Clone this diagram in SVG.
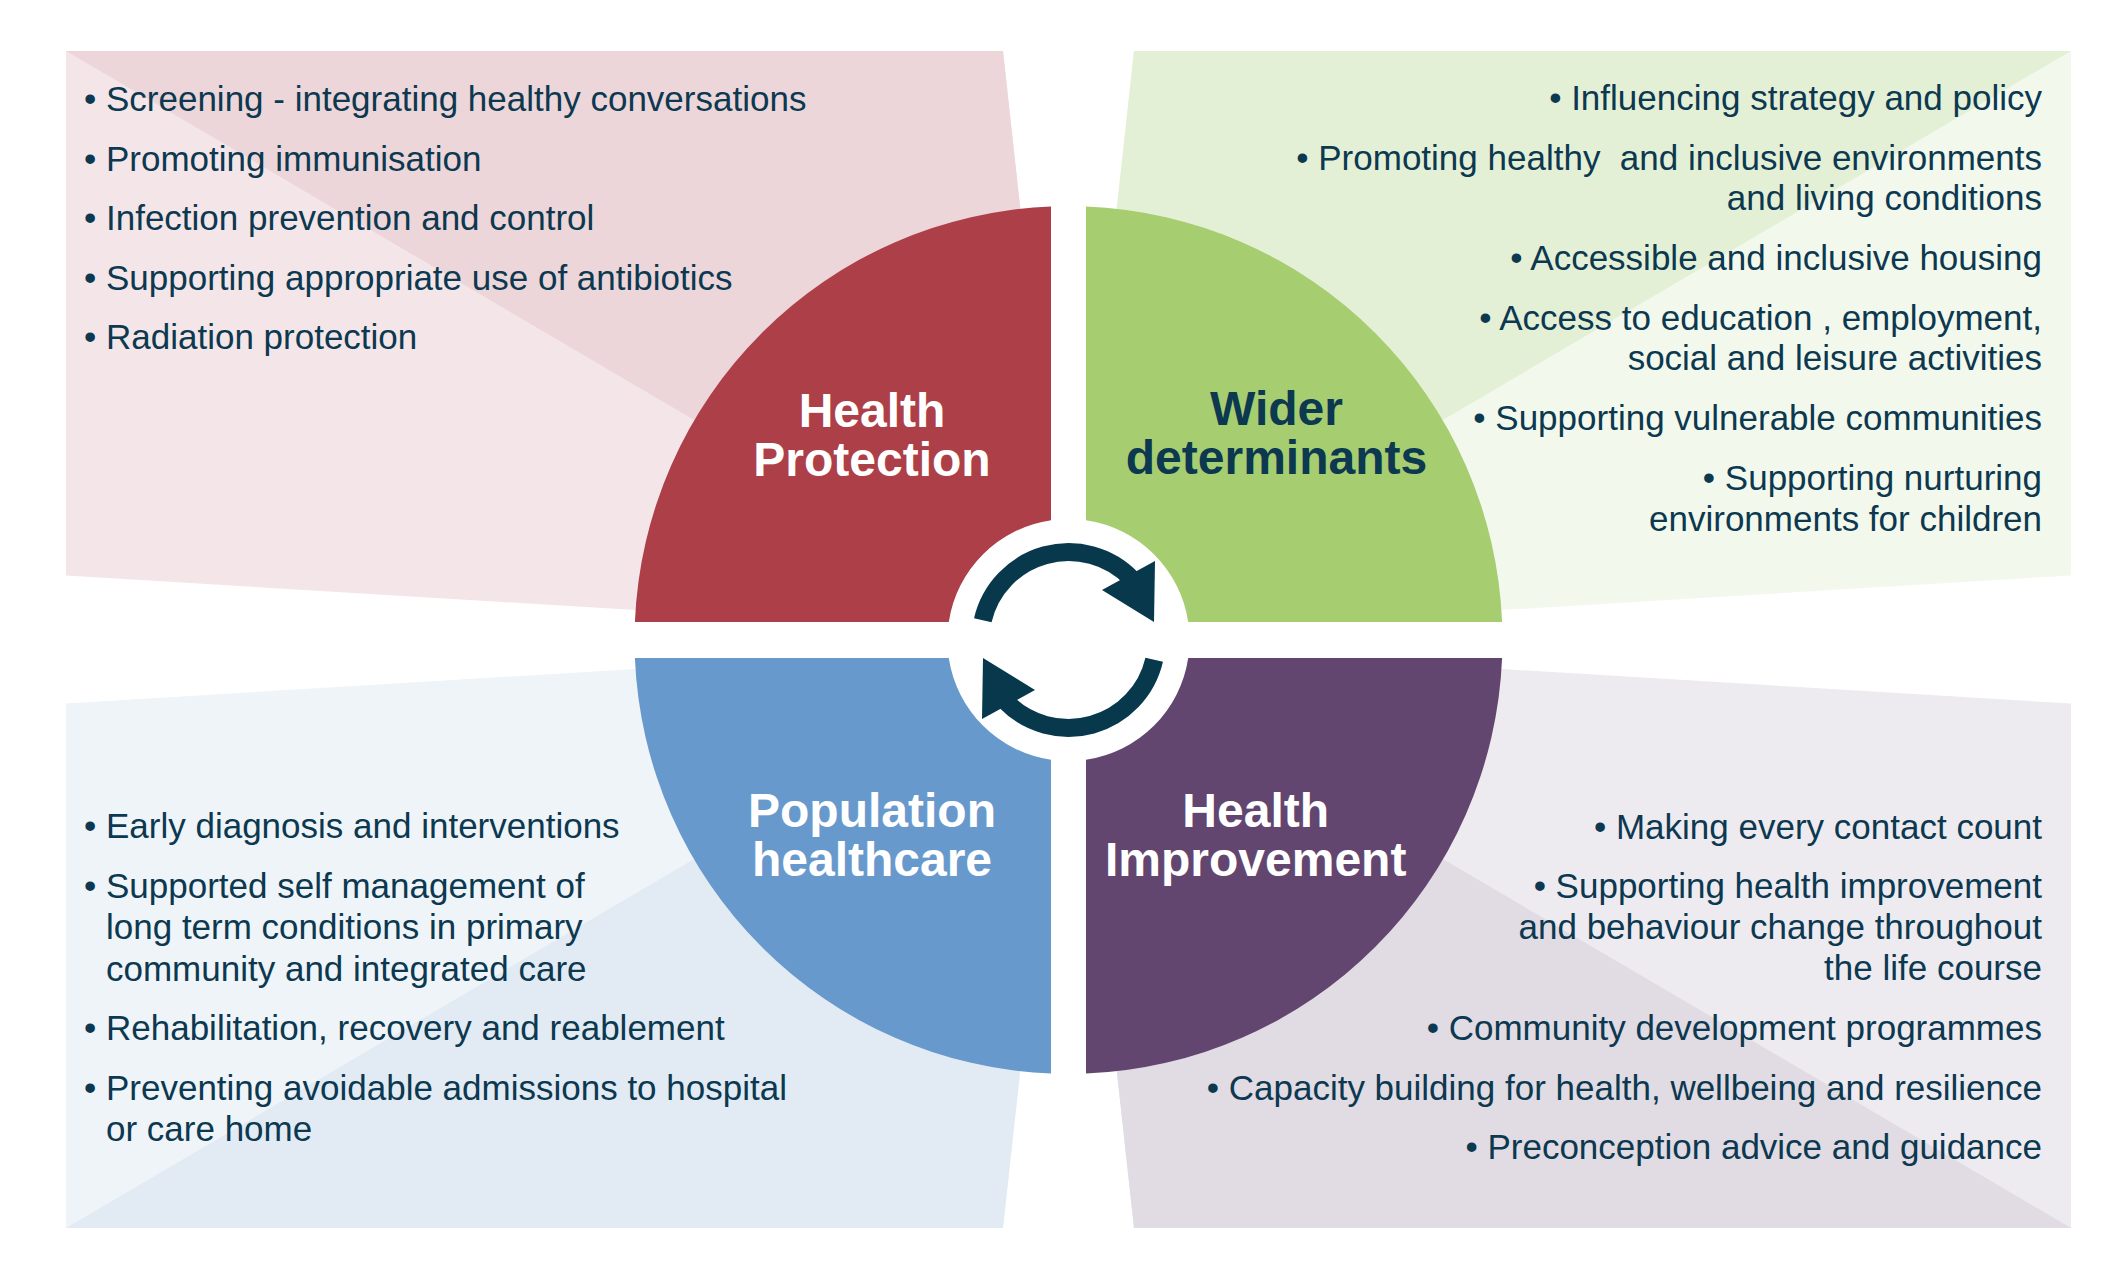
<svg xmlns="http://www.w3.org/2000/svg" width="2126" height="1280" viewBox="0 0 2126 1280">
<defs>
<style>
.body{font-family:"Liberation Sans",Arial,sans-serif;font-size:35px;fill:#0c3850}
.end{text-anchor:end}
.title{font-family:"Liberation Sans",Arial,sans-serif;font-size:48px;font-weight:bold;text-anchor:middle}
.w{fill:#ffffff}
.n{fill:#0c3850}
.arc{fill:none;stroke:#07384b;stroke-width:18}
.head{fill:#07384b}
</style>
</defs>
<rect width="2126" height="1280" fill="#ffffff"/>
<g id="health-protection">
<polygon points="66,51 1003,51 1021,215 800,450 635.5,610 66,575.5" fill="#f4e6e8"/>
<polygon points="66,51 1003,51 1021,215 767.8,463.3" fill="#ecd6d9"/>
<path d="M634.9 622 A434 434 0 0 1 1051 206.4 L1051 520.3 A121 121 0 0 0 948.8 622 Z" fill="#ad3f48"/>
<text class="title w" x="872" y="426.5">Health</text>
<text class="title w" x="872" y="475.5">Protection</text>
<text class="body" x="84" y="111">• Screening - integrating healthy conversations</text>
<text class="body" x="84" y="170.6">• Promoting immunisation</text>
<text class="body" x="84" y="230">• Infection prevention and control</text>
<text class="body" x="84" y="289.5">• Supporting appropriate use of antibiotics</text>
<text class="body" x="84" y="349">• Radiation protection</text>
</g>
<g id="wider-determinants">
<polygon points="2071,51 1134,51 1116,215 1337,450 1501.5,610 2071,575.5" fill="#f3f8ec"/>
<polygon points="2071,51 1134,51 1116,215 1369.2,463.3" fill="#e4f0d6"/>
<path d="M1086 206.4 A434 434 0 0 1 1502.1 622 L1188.2 622 A121 121 0 0 0 1086 520.3 Z" fill="#a6cd70"/>
<text class="title n" x="1276.5" y="424.5">Wider</text>
<text class="title n" x="1276.5" y="473.5">determinants</text>
<text class="body end" x="2042" y="110">• Influencing strategy and policy</text>
<text class="body end" x="2042" y="169.5">• Promoting healthy&#160; and inclusive environments</text>
<text class="body end" x="2042" y="210">and living conditions</text>
<text class="body end" x="2042" y="270">• Accessible and inclusive housing</text>
<text class="body end" x="2042" y="329.5">• Access to education , employment,</text>
<text class="body end" x="2042" y="370">social and leisure activities</text>
<text class="body end" x="2042" y="430">• Supporting vulnerable communities</text>
<text class="body end" x="2042" y="489.5">• Supporting nurturing</text>
<text class="body end" x="2042" y="530.5">environments for children</text>
</g>
<g id="population-healthcare">
<polygon points="66,1228 1003,1228 1021,1064 800,829 635.5,669 66,703.5" fill="#eff4f9"/>
<polygon points="66,1228 1003,1228 1021,1064 767.8,815.7" fill="#e2ebf4"/>
<path d="M1051 1073.6 A434 434 0 0 1 634.9 658 L948.8 658 A121 121 0 0 0 1051 759.7 Z" fill="#6899cc"/>
<text class="title w" x="872" y="827">Population</text>
<text class="title w" x="872" y="876">healthcare</text>
<text class="body" x="84" y="838">• Early diagnosis and interventions</text>
<text class="body" x="84" y="897.5">• Supported self management of</text>
<text class="body" x="106" y="939">long term conditions in primary</text>
<text class="body" x="106" y="981">community and integrated care</text>
<text class="body" x="84" y="1040">• Rehabilitation, recovery and reablement</text>
<text class="body" x="84" y="1099.5">• Preventing avoidable admissions to hospital</text>
<text class="body" x="106" y="1141">or care home</text>
</g>
<g id="health-improvement">
<polygon points="2071,1228 1134,1228 1116,1064 1337,829 1501.5,669 2071,703.5" fill="#eeebf0"/>
<polygon points="2071,1228 1134,1228 1116,1064 1369.2,815.7" fill="#e1dbe3"/>
<path d="M1502.1 658 A434 434 0 0 1 1086 1073.6 L1086 759.7 A121 121 0 0 0 1188.2 658 Z" fill="#624670"/>
<text class="title w" x="1255.7" y="827">Health</text>
<text class="title w" x="1255.7" y="876">Improvement</text>
<text class="body end" x="2042" y="838.5">• Making every contact count</text>
<text class="body end" x="2042" y="897.5">• Supporting health improvement</text>
<text class="body end" x="2042" y="939">and behaviour change throughout</text>
<text class="body end" x="2042" y="979.5">the life course</text>
<text class="body end" x="2042" y="1040">• Community development programmes</text>
<text class="body end" x="2042" y="1099.5">• Capacity building for health, wellbeing and resilience</text>
<text class="body end" x="2042" y="1158.5">• Preconception advice and guidance</text>
</g>
<g id="connectors">
<g id="arrow-top">
<path class="arc" d="M982.8 620.2 A88 88 0 0 1 1131.8 578.9"/>
<polygon class="head" points="1155,561 1102,590 1154,622"/>
</g>
<g id="arrow-bottom" transform="rotate(180 1068.5 640)">
<path class="arc" d="M982.8 620.2 A88 88 0 0 1 1131.8 578.9"/>
<polygon class="head" points="1155,561 1102,590 1154,622"/>
</g>
</g>
</svg>
